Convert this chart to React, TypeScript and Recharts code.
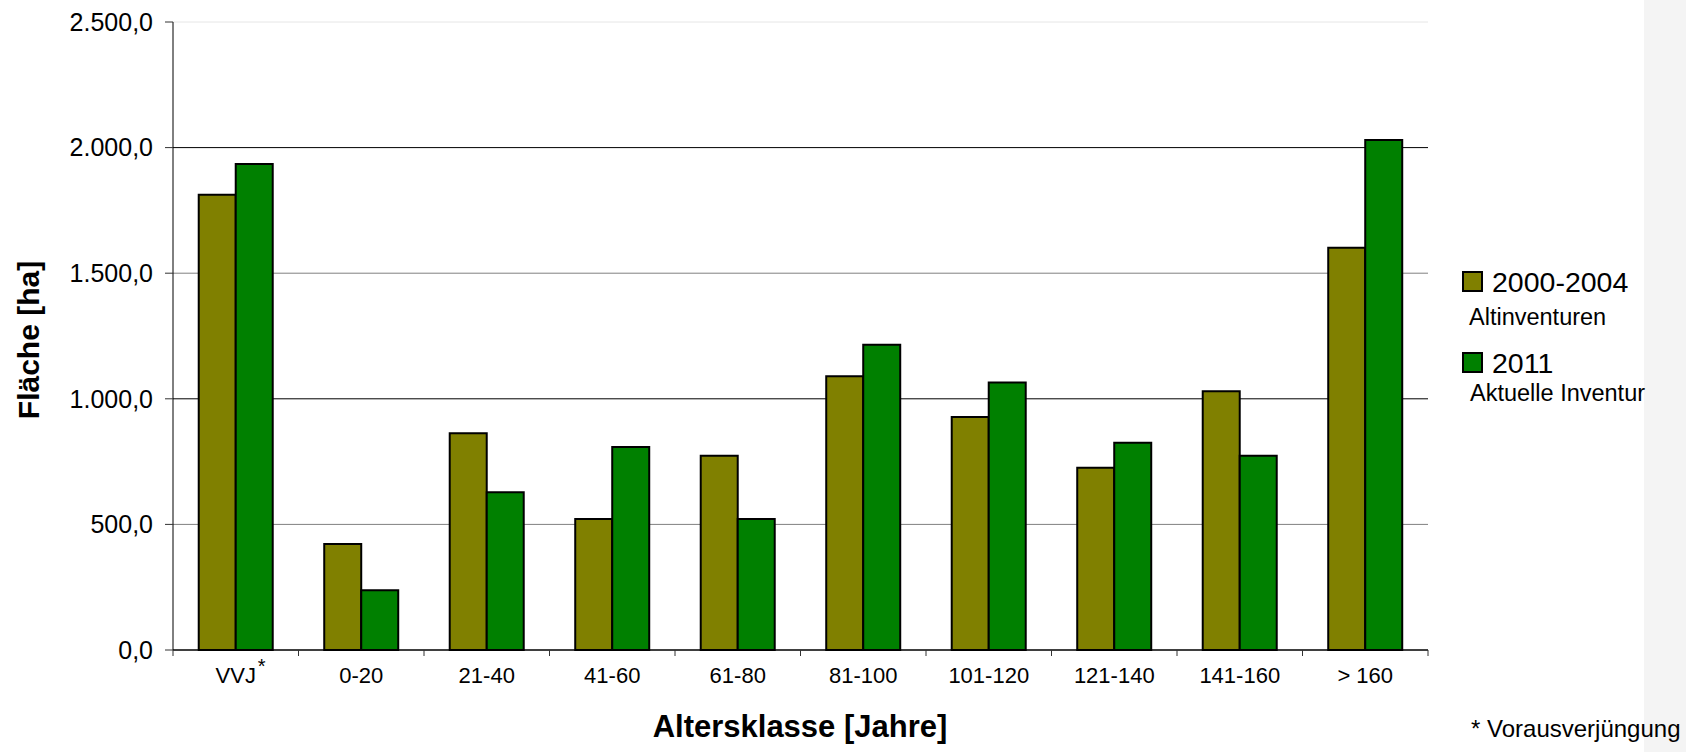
import React from 'react';
import { BarChart, Bar, XAxis, YAxis, CartesianGrid, Legend, Label } from 'recharts';

const categories = ['VVJ*', '0-20', '21-40', '41-60', '61-80', '81-100', '101-120', '121-140', '141-160', '> 160'];
const altinventuren = [1812, 422, 863, 521, 773, 1090, 928, 726, 1030, 1601];
const aktuelleInventur = [1935, 238, 628, 808, 521, 1215, 1065, 825, 773, 2030];
const yTicks = [0, 500, 1000, 1500, 2000, 2500];
const seriesNames = ['2000-2004', '2011'];
const seriesSubtitles = ['Altinventuren', 'Aktuelle Inventur'];
const seriesColors = ['#808000', '#008000'];
const xTitle = 'Altersklasse [Jahre]';
const yTitle = 'Fläche [ha]';
const footnote = '* Vorausverjüngung';

const data = categories.map((c, i) => ({ cat: c, alt: altinventuren[i], akt: aktuelleInventur[i] }));

const FONT = '"Liberation Sans", Arial, Helvetica, sans-serif';

const fmt = (v: number) => {
  const [i, d] = v.toFixed(1).split('.');
  return i.replace(/\B(?=(\d{3})+(?!\d))/g, '.') + ',' + d;
};

const gridStrokes = ['#000000', '#808080', '#000000', '#808080', '#000000', '#e6e6e6'];

const GridLine = (props: any) => {
  const { x1, x2, y1, y2, index } = props;
  const s = gridStrokes[index] ?? '#808080';
  return <line x1={x1} x2={x2} y1={y1} y2={y2} stroke={s} strokeWidth={1} />;
};

const XTick = (props: any) => {
  const { x, y, payload, index } = props;
  const half = payload && typeof payload.offset === 'number' && payload.offset > 0 ? payload.offset : 62.75;
  const label = String(payload.value);
  const star = label.endsWith('*');
  const base = star ? label.slice(0, -1) : label;
  return (
    <g>
      <line x1={x - half} x2={x - half} y1={y} y2={y + 6} stroke="#333" strokeWidth={1} />
      {index === categories.length - 1 && (
        <line x1={x + half} x2={x + half} y1={y} y2={y + 6} stroke="#333" strokeWidth={1} />
      )}
      <text x={x} y={y + 33} textAnchor="middle" fontSize={22} fill="#000" fontFamily={FONT}>
        {base}
      </text>
      {star && (
        <text x={x + 22} y={y + 23} textAnchor="start" fontSize={20} fill="#000" fontFamily={FONT}>
          *
        </text>
      )}
    </g>
  );
};

const XTitle = () => (
  <text x={800} y={737} textAnchor="middle" fontSize={31} fontWeight="bold" fill="#000" fontFamily={FONT}>
    {xTitle}
  </text>
);

const YTitle = () => (
  <text
    transform="translate(39,340) rotate(-90)"
    x={0}
    y={0}
    textAnchor="middle"
    fontSize={30}
    fontWeight="bold"
    fill="#000"
    fontFamily={FONT}
  >
    {yTitle}
  </text>
);

const subOffsets = [58, 53];

const LegendContent = () => (
  <svg width={240} height={150} style={{ position: 'absolute', left: 0, top: 0, overflow: 'visible' }}>
    {seriesNames.map((n, i) => {
      const oy = i * 81;
      return (
        <g key={n}>
          <rect x={1} y={oy + 5} width={19} height={19} fill={seriesColors[i]} stroke="#000" strokeWidth={2} />
          <text x={30} y={oy + 25} fontSize={28.5} fill="#000" fontFamily={FONT}>
            {n}
          </text>
          <text x={7 + i} y={oy + subOffsets[i]} fontSize={23.5} fill="#000" fontFamily={FONT}>
            {seriesSubtitles[i]}
          </text>
        </g>
      );
    })}
  </svg>
);

export default function App() {
  return (
    <div style={{ position: 'absolute', left: 0, top: 0, width: 1686, height: 752, background: '#fff' }}>
      <div style={{ position: 'absolute', left: 1644, top: 0, width: 42, height: 752, background: '#f4f4f4' }} />
      <div style={{ position: 'absolute', left: 0, top: 0 }}>
        <BarChart
          width={1686}
          height={752}
          data={data}
          margin={{ top: 22, right: 258, bottom: 0, left: 0 }}
          barCategoryGap="20.5%"
          barGap={0}
        >
          <CartesianGrid vertical={false} horizontal={GridLine as any} stroke="#808080" />
          <XAxis
            dataKey="cat"
            interval={0}
            height={102}
            tickLine={false}
            tickSize={0}
            tickMargin={0}
            axisLine={{ stroke: '#000', strokeWidth: 1 }}
            tick={XTick as any}
          >
            <Label content={XTitle as any} />
          </XAxis>
          <YAxis
            width={173}
            domain={[0, 2500]}
            ticks={yTicks}
            interval={0}
            tickFormatter={fmt}
            tickSize={8}
            tickMargin={12}
            axisLine={{ stroke: '#000', strokeWidth: 1 }}
            tickLine={{ stroke: '#333', strokeWidth: 1 }}
            tick={{ fontSize: 25, fill: '#000', fontFamily: FONT }}
          >
            <Label content={YTitle as any} />
          </YAxis>
          <Legend
            layout="vertical"
            align="right"
            verticalAlign="middle"
            wrapperStyle={{ position: 'absolute', left: 1462, top: 267, width: 0, height: 0, overflow: 'visible' }}
            content={LegendContent as any}
          />
          <Bar dataKey="alt" name={seriesNames[0]} fill={seriesColors[0]} stroke="#000" strokeWidth={2} isAnimationActive={false} />
          <Bar dataKey="akt" name={seriesNames[1]} fill={seriesColors[1]} stroke="#000" strokeWidth={2} isAnimationActive={false} />
        </BarChart>
      </div>
      <div
        style={{
          position: 'absolute',
          left: 1471,
          top: 717,
          fontSize: 24,
          lineHeight: '24px',
          fontFamily: FONT,
          whiteSpace: 'nowrap',
          color: '#000',
        }}
      >
        {footnote}
      </div>
    </div>
  );
}
